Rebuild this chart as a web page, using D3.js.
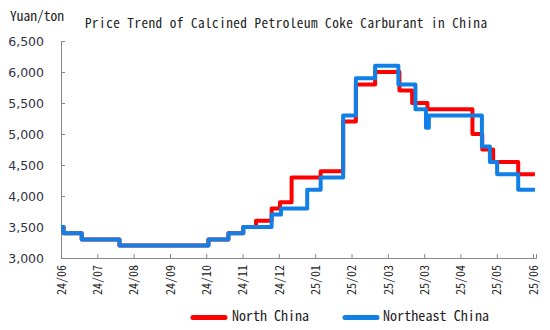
<!DOCTYPE html>
<html>
<head>
<meta charset="utf-8">
<script src="https://cdn.jsdelivr.net/npm/d3@7"></script>
<style>
  html, body { margin: 0; padding: 0; background: #fff; }
  svg { display: block; }
  .mono { font-family: "Noto Sans Mono CJK SC", "Noto Sans CJK SC", "Liberation Mono", monospace; }
</style>
</head>
<body>
<div id="chart"></div>
<script>
// ---- data ----
const title = "Price Trend of Calcined Petroleum Coke Carburant in China";
const unitLabel = "Yuan/ton";
const xTickLabels = ["24/06","24/07","24/08","24/09","24/10","24/11","24/12","25/01","25/02","25/03","25/03","25/04","25/05","25/06"];
const yTicks = [3000, 3500, 4000, 4500, 5000, 5500, 6000, 6500];
const seriesNames = ["North China", "Northeast China"];
// positions along the axis (0 = first label, 1 = next label, ...) and prices at each change
const northPos    = [0, 0.07, 0.57, 1.61, 4.06, 4.61, 5.02, 5.37, 5.80, 6.03, 6.35, 7.15, 7.77, 8.12, 8.65, 9.32, 9.67, 10.09, 11.33, 11.60, 11.90, 12.59, 13.05];
const northVal    = [3500, 3400, 3300, 3200, 3300, 3400, 3500, 3600, 3800, 3900, 4300, 4400, 5200, 5800, 6000, 5700, 5500, 5400, 5000, 4750, 4550, 4350, 4350];
const northeastPos = [0, 0.07, 0.57, 1.61, 4.06, 4.61, 5.02, 5.80, 6.06, 6.78, 7.15, 7.77, 8.12, 8.65, 9.29, 9.76, 10.05, 10.13, 11.59, 11.81, 12.01, 12.59, 13.05];
const northeastVal = [3500, 3400, 3300, 3200, 3300, 3400, 3500, 3700, 3800, 4100, 4300, 5300, 5900, 6100, 5800, 5400, 5100, 5300, 4800, 4550, 4350, 4100, 4100];
const colors = ["#ff0000", "#1180e6"];

// ---- layout ----
const W = 550, H = 330;
const svg = d3.select("#chart").append("svg").attr("width", W).attr("height", H);

const x = d3.scaleLinear().domain([0, 13.08]).range([61, 536]);
const y = d3.scaleLinear().domain([3000, 6500]).range([258, 41]);

// title and unit
svg.append("text").attr("class", "mono")
  .attr("x", 85).attr("y", 28).attr("font-size", 13.2).attr("fill", "#222")
  .attr("textLength", 402).attr("lengthAdjust", "spacing")
  .text(title);
svg.append("text").attr("class", "mono")
  .attr("x", 10).attr("y", 21).attr("font-size", 13.5).attr("fill", "#222")
  .attr("textLength", 54).attr("lengthAdjust", "spacing")
  .text(unitLabel);

// y axis
const yAxis = d3.axisLeft(y).tickValues(yTicks).tickSize(-4).tickPadding(20)
  .tickFormat(d3.format(","));
const gy = svg.append("g").attr("transform", `translate(${x(0)},0)`).call(yAxis);
gy.select(".domain").attr("stroke", "#888");
gy.selectAll(".tick line").attr("stroke", "#888");
gy.selectAll(".tick text").attr("font-family", "DejaVu Sans, Verdana, sans-serif")
  .attr("font-size", 12.5).attr("fill", "#333345").attr("x", -17);

// x axis
const xAxis = d3.axisBottom(x).tickValues(d3.range(xTickLabels.length))
  .tickSize(-4).tickFormat(i => xTickLabels[i]);
const gx = svg.append("g").attr("transform", `translate(0,${y(3000)})`).call(xAxis);
gx.select(".domain").attr("stroke", "#888");
gx.selectAll(".tick line").attr("stroke", "#888");
gx.selectAll(".tick text")
  .attr("class", "mono")
  .attr("font-size", 12).attr("fill", "#222")
  .attr("transform", "rotate(-90)")
  .attr("x", -7).attr("y", 0).attr("dy", "0.35em")
  .attr("text-anchor", "end")
  .attr("textLength", 30).attr("lengthAdjust", "spacing");

// lines
const line = d3.line().x(d => x(d[0])).y(d => y(d[1])).curve(d3.curveStepAfter);
const series = [
  { name: seriesNames[0], data: d3.zip(northPos, northVal), color: colors[0], len: 77 },
  { name: seriesNames[1], data: d3.zip(northeastPos, northeastVal), color: colors[1], len: 106 }
];
svg.selectAll("path.series").data(series).enter().append("path")
  .attr("class", "series")
  .attr("d", d => line(d.data))
  .attr("fill", "none")
  .attr("stroke", d => d.color)
  .attr("stroke-width", 4)
  .attr("stroke-linejoin", "round");

// legend
const legendPos = [{ lx: 193, tx: 232 }, { lx: 345, tx: 383 }];
const lg = svg.selectAll("g.legend").data(series).enter().append("g").attr("class", "legend");
lg.append("line")
  .attr("x1", (d, i) => legendPos[i].lx).attr("x2", (d, i) => legendPos[i].lx + 32)
  .attr("y1", 317.5).attr("y2", 317.5)
  .attr("stroke", d => d.color).attr("stroke-width", 5).attr("stroke-linecap", "round");
lg.append("text").attr("class", "mono")
  .attr("x", (d, i) => legendPos[i].tx).attr("y", 316.5).attr("dy", "0.35em")
  .attr("font-size", 14).attr("fill", "#222")
  .attr("textLength", d => d.len).attr("lengthAdjust", "spacing")
  .text(d => d.name);
</script>
</body>
</html>
